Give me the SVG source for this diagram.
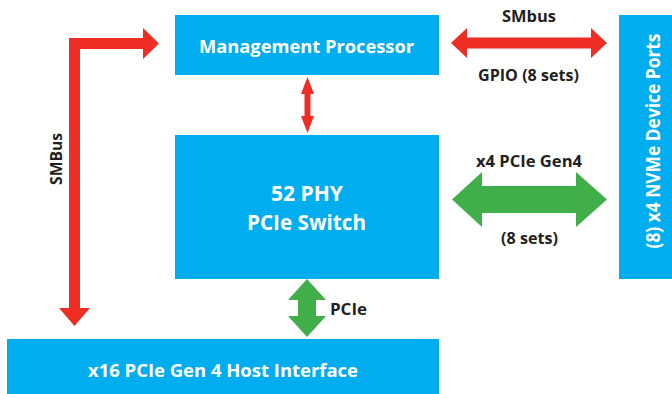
<svg xmlns="http://www.w3.org/2000/svg" width="672" height="394" viewBox="0 0 672 394">
<defs>
<style>
.box{fill:#00AEEF}
.red{fill:#EE2D24}
.green{fill:#40AE49}
.wt{fill:#FFFFFF;font-family:"Open Sans","Liberation Sans",sans-serif;font-weight:700;text-anchor:middle}
.bt{fill:#231F20;font-family:"Open Sans","Liberation Sans",sans-serif;font-weight:700;text-anchor:middle;font-size:16px}
</style>
</defs>
<rect width="672" height="394" fill="#FFFFFF"/>
<g id="mgmt">
<rect class="box" x="175" y="15" width="264" height="60"/>
<text class="wt" x="306.5" y="52.5" font-size="18" textLength="215" lengthAdjust="spacingAndGlyphs">Management Processor</text>
</g>
<g id="switch">
<rect class="box" x="175" y="135" width="264" height="144"/>
<text class="wt" x="307" y="201" font-size="21" textLength="72" lengthAdjust="spacingAndGlyphs">52 PHY</text>
<text class="wt" x="306.5" y="230" font-size="21" textLength="119" lengthAdjust="spacingAndGlyphs">PCIe Switch</text>
</g>
<g id="host">
<rect class="box" x="7" y="339" width="432" height="55"/>
<text class="wt" x="223" y="377" font-size="18" textLength="270" lengthAdjust="spacingAndGlyphs">x16 PCIe Gen 4 Host Interface</text>
</g>
<g id="nvme">
<rect class="box" x="619" y="15" width="53" height="264"/>
<text class="wt" transform="translate(660,141) rotate(-90)" x="0" y="0" font-size="19" textLength="215" lengthAdjust="spacingAndGlyphs">(8) x4 NVMe Device Ports</text>
</g>
<g id="connectors">
<path class="red" d="M69,38 L143,38 L143,28 L159,43.5 L143,59 L143,49 L80,49 L80,308 L90,308 L74.5,326 L59,308 L69,308 Z"/>
<path class="red" d="M307.5,77 L314,94 L310.5,94 L310.5,116 L314,116 L307.5,133 L301,116 L304.5,116 L304.5,94 L301,94 Z"/>
<path class="red" d="M451,43 L467,28 L467,37.5 L591,37.5 L591,28 L607,43 L591,58 L591,48.5 L467,48.5 L467,58 Z"/>
<path class="green" d="M452,199.5 L482,172 L482,186 L576,186 L576,172 L607,199.5 L576,227 L576,213 L482,213 L482,227 Z"/>
<path class="green" d="M307,279 L326,300 L316,300 L316,316 L326,316 L307,337 L288,316 L298,316 L298,300 L288,300 Z"/>
<text class="bt" x="529" y="22" textLength="54" lengthAdjust="spacingAndGlyphs">SMbus</text>
<text class="bt" x="528.5" y="81" textLength="101" lengthAdjust="spacingAndGlyphs">GPIO (8 sets)</text>
<text class="bt" x="529" y="167" textLength="106" lengthAdjust="spacingAndGlyphs">x4 PCIe Gen4</text>
<text class="bt" x="529.5" y="244" textLength="57" lengthAdjust="spacingAndGlyphs">(8 sets)</text>
<text class="bt" x="348.5" y="315" textLength="37" lengthAdjust="spacingAndGlyphs">PCIe</text>
<text class="bt" transform="translate(62,159) rotate(-90)" x="0" y="0" textLength="52" lengthAdjust="spacingAndGlyphs">SMBus</text>
</g>
</svg>
